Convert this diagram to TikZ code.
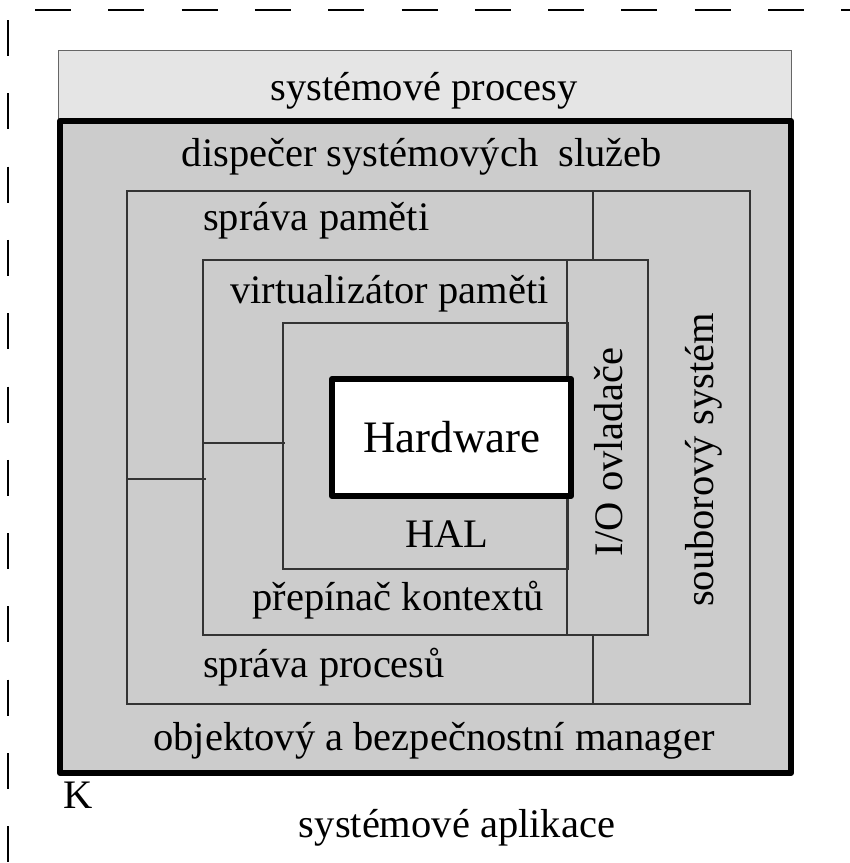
\documentclass[tikz,border=0pt]{standalone}
\usepackage{fontspec}
\setmainfont{Liberation Serif}
\begin{document}
\begin{tikzpicture}[x=1pt,y=-1pt,
  lbl/.style={inner sep=0pt,anchor=base,font=\fontsize{40.5}{48}\selectfont},
  thin box/.style={draw=black!80,line width=1.2pt},
  heavy/.style={draw=black,line width=6pt},
  dashline/.style={draw=black,line width=1.3pt,dash pattern=on 36pt off 37.3pt}]
\useasboundingbox (0,0) rectangle (850,863);
\fill[white] (0,0) rectangle (850,863);
% outer dashed frame
\coordinate (tl1) at (35,10); \coordinate (tr1) at (850,10);
\coordinate (lt1) at (8,20);  \coordinate (lb1) at (8,863);
\draw[dashline] (tl1) -- (tr1);
\draw[dashline] (lt1) -- (lb1);
% system processes bar
\draw[fill=black!10,draw=black!60,line width=1pt] (58,50) rectangle (791,121);
% kernel box
\draw[fill=black!20,heavy,line join=round] (60,121) rectangle (791,773);
% box 1
\draw[thin box] (127,191) rectangle (750,704);
% box 2
\draw[thin box] (203,260) rectangle (648,635);
% box 3
\draw[thin box] (283,323) rectangle (568,569);
% separators
\coordinate (s1a) at (593,191); \coordinate (s1b) at (593,260);
\coordinate (s2a) at (593,635); \coordinate (s2b) at (593,704);
\coordinate (s3a) at (567,260); \coordinate (s3b) at (567,635);
\coordinate (h1a) at (127,479); \coordinate (h1b) at (206,479);
\coordinate (h2a) at (203,443); \coordinate (h2b) at (285,443);
\draw[thin box] (s1a) -- (s1b);
\draw[thin box] (s2a) -- (s2b);
\draw[thin box] (s3a) -- (s3b);
\draw[thin box] (h1a) -- (h1b);
\draw[thin box] (h2a) -- (h2b);
% hardware
\draw[fill=white,heavy,line join=round] (332,379) rectangle (571,496);
% labels
\node[lbl] (sp) at (424,100) {systémové procesy};
\node[lbl] (ds) at (422,166) {dispečer systémových\ \ služeb};
\node[lbl,anchor=base west] (spm) at (203,230) {správa paměti};
\node[lbl,anchor=base west] (vp) at (230,303) {virtualizátor paměti};
\node[lbl,font=\fontsize{45}{54}\selectfont] (hw) at (452,452) {Hardware};
\node[lbl] (hal) at (447,547) {HAL};
\node[lbl] (pk) at (398,610) {přepínač kontextů};
\node[lbl,anchor=base west] (spr) at (203,677) {správa procesů};
\node[lbl] (obm) at (434,750) {objektový a bezpečnostní manager};
\node[lbl,anchor=base west] (k) at (63,808) {K};
\node[lbl] (sa) at (457,837) {systémové aplikace};
\node[lbl,rotate=90] (io) at (622,452) {I/O ovladače};
\node[lbl,rotate=90] (ss) at (713,460) {souborový systém};
\end{tikzpicture}
\end{document}
